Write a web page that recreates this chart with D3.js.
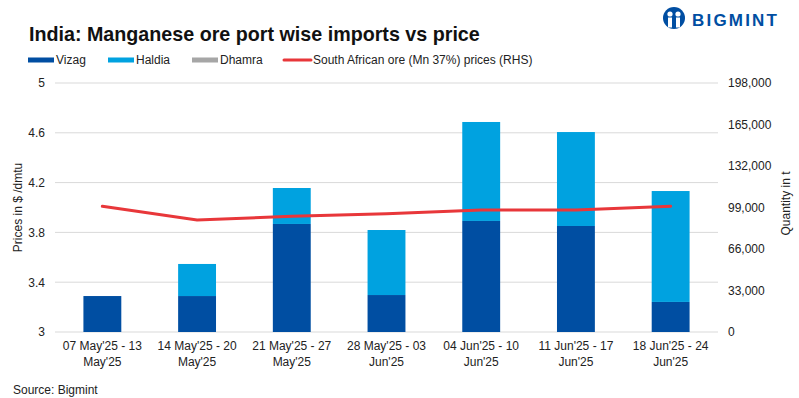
<!DOCTYPE html>
<html>
<head>
<meta charset="utf-8">
<script src="https://cdn.jsdelivr.net/npm/d3@7"></script>
<style>
  body { margin: 0; background: #fff; }
  svg { font-family: "Liberation Sans", Arial, sans-serif; }
</style>
</head>
<body>
<svg id="chart"></svg>
<script>
const categories = [
  ["07 May'25 - 13", "May'25"],
  ["14 May'25 - 20", "May'25"],
  ["21 May'25 - 27", "May'25"],
  ["28 May'25 - 03", "Jun'25"],
  ["04 Jun'25 - 10", "Jun'25"],
  ["11 Jun'25 - 17", "Jun'25"],
  ["18 Jun'25 - 24", "Jun'25"]
];
const vizag  = [28600, 28600, 85900, 29400, 88300, 84300, 23900];
const haldia = [0, 25500, 28600, 51700, 78700, 74700, 88200];
const dhamra = [0, 0, 0, 0, 0, 0, 0];
const price  = [4.01, 3.90, 3.93, 3.95, 3.98, 3.98, 4.01];
const priceTicks = [3, 3.4, 3.8, 4.2, 4.6, 5];
const qtyTicks = [0, 33000, 66000, 99000, 132000, 165000, 198000];

const width = 799, height = 398;
const margin = { top: 83, right: 81, bottom: 66, left: 55 };
const innerW = width - margin.left - margin.right;
const innerH = height - margin.top - margin.bottom;

const colors = { vizag: '#004ea2', haldia: '#00a2e0', dhamra: '#a6a6a6', price: '#e8373a' };

const svg = d3.select('#chart').attr('width', width).attr('height', height);

// title
svg.append('text')
  .attr('x', 29).attr('y', 41)
  .attr('font-size', 19.7).attr('font-weight', 'bold').attr('fill', '#111')
  .text('India: Manganese ore port wise imports vs price');

// logo
const logo = svg.append('g').attr('transform', 'translate(663,7)');
logo.append('circle').attr('cx', 11).attr('cy', 11).attr('r', 11).attr('fill', colors.vizag);
logo.append('circle').attr('cx', 7).attr('cy', 7).attr('r', 2.6).attr('fill', '#fff');
logo.append('circle').attr('cx', 15).attr('cy', 7).attr('r', 2.6).attr('fill', '#fff');
logo.append('rect').attr('x', 5).attr('y', 10.5).attr('width', 4).attr('height', 10).attr('fill', '#fff');
logo.append('rect').attr('x', 13).attr('y', 10.5).attr('width', 4).attr('height', 10).attr('fill', '#fff');
svg.append('text')
  .attr('x', 692).attr('y', 26)
  .attr('font-size', 17).attr('font-weight', 'bold').attr('fill', colors.vizag)
  .attr('letter-spacing', 2.2)
  .text('BIGMINT');

// legend
const legendItems = [
  { label: 'Vizag', color: colors.vizag, x: 28, type: 'rect' },
  { label: 'Haldia', color: colors.haldia, x: 108, type: 'rect' },
  { label: 'Dhamra', color: colors.dhamra, x: 192, type: 'rect' },
  { label: 'South African ore (Mn 37%) prices (RHS)', color: colors.price, x: 284, type: 'line' }
];
const legend = svg.append('g').selectAll('g').data(legendItems).enter().append('g')
  .attr('transform', d => 'translate(' + d.x + ',60)');
legend.filter(d => d.type === 'rect').append('rect')
  .attr('x', 0).attr('y', -2.5).attr('width', 26).attr('height', 5).attr('fill', d => d.color);
legend.filter(d => d.type === 'line').append('line')
  .attr('x1', 0).attr('x2', 27).attr('y1', 0).attr('y2', 0)
  .attr('stroke', d => d.color).attr('stroke-width', 3).attr('stroke-linecap', 'round');
legend.append('text')
  .attr('x', d => d.type === 'line' ? 29 : 28).attr('y', 0).attr('dy', '0.35em')
  .attr('font-size', 12).attr('fill', '#222')
  .text(d => d.label);

const g = svg.append('g').attr('transform', 'translate(' + margin.left + ',' + margin.top + ')');

const x = d3.scaleBand().domain(d3.range(categories.length)).range([0, innerW]).paddingInner(0.6).paddingOuter(0.3);
const yPrice = d3.scaleLinear().domain([3, 5]).range([innerH, 0]);
const yQty = d3.scaleLinear().domain([0, 198000]).range([innerH, 0]);

// grid
g.append('g').selectAll('line').data(priceTicks).enter().append('line')
  .attr('x1', 0).attr('x2', innerW)
  .attr('y1', d => yPrice(d)).attr('y2', d => yPrice(d))
  .attr('stroke', '#d9d9d9').attr('stroke-width', 1);

// left axis
const yAxisL = d3.axisLeft(yPrice).tickValues(priceTicks).tickSize(0).tickPadding(10).tickFormat(d3.format('~g'));
g.append('g').call(yAxisL)
  .call(s => s.select('.domain').remove())
  .call(s => s.selectAll('text').attr('font-size', 12).attr('fill', '#222').attr('font-family', null));

// right axis
const yAxisR = d3.axisRight(yQty).tickValues(qtyTicks).tickSize(0).tickPadding(10).tickFormat(d3.format(','));
g.append('g').attr('transform', 'translate(' + innerW + ',0)').call(yAxisR)
  .call(s => s.select('.domain').remove())
  .call(s => s.selectAll('text').attr('font-size', 12).attr('fill', '#222').attr('font-family', null));

// axis titles
svg.append('text')
  .attr('transform', 'translate(22,' + (margin.top + innerH / 2) + ') rotate(-90)')
  .attr('text-anchor', 'middle').attr('font-size', 12).attr('fill', '#222')
  .text('Prices in $ /dmtu');
svg.append('text')
  .attr('transform', 'translate(790,' + (margin.top + innerH / 2 - 4) + ') rotate(-90)')
  .attr('text-anchor', 'middle').attr('font-size', 12).attr('fill', '#222')
  .text('Quantity in t');

// x labels
const xl = g.append('g').selectAll('text').data(categories).enter().append('text')
  .attr('x', (d, i) => x(i) + x.bandwidth() / 2)
  .attr('y', innerH + 18)
  .attr('text-anchor', 'middle').attr('font-size', 12).attr('fill', '#222');
xl.append('tspan').attr('x', (d, i) => x(i) + x.bandwidth() / 2).text(d => d[0]);
xl.append('tspan').attr('x', (d, i) => x(i) + x.bandwidth() / 2).attr('dy', 16).text(d => d[1]);

// stacked bars
const rows = categories.map((c, i) => ({ i: i, vizag: vizag[i], haldia: haldia[i], dhamra: dhamra[i] }));
const stack = d3.stack().keys(['vizag', 'haldia', 'dhamra'])(rows);
g.append('g').selectAll('g').data(stack).enter().append('g')
  .attr('fill', d => colors[d.key])
  .selectAll('rect').data(d => d).enter().append('rect')
  .attr('x', d => x(d.data.i))
  .attr('width', x.bandwidth())
  .attr('y', d => yQty(d[1]))
  .attr('height', d => yQty(d[0]) - yQty(d[1]));

// price line
const line = d3.line().x((d, i) => x(i) + x.bandwidth() / 2).y(d => yPrice(d));
g.append('path').datum(price)
  .attr('d', line)
  .attr('fill', 'none').attr('stroke', colors.price).attr('stroke-width', 3).attr('stroke-linecap', 'round');

// source
svg.append('text')
  .attr('x', 13).attr('y', 394)
  .attr('font-size', 12).attr('fill', '#222')
  .text('Source: Bigmint');
</script>
</body>
</html>
